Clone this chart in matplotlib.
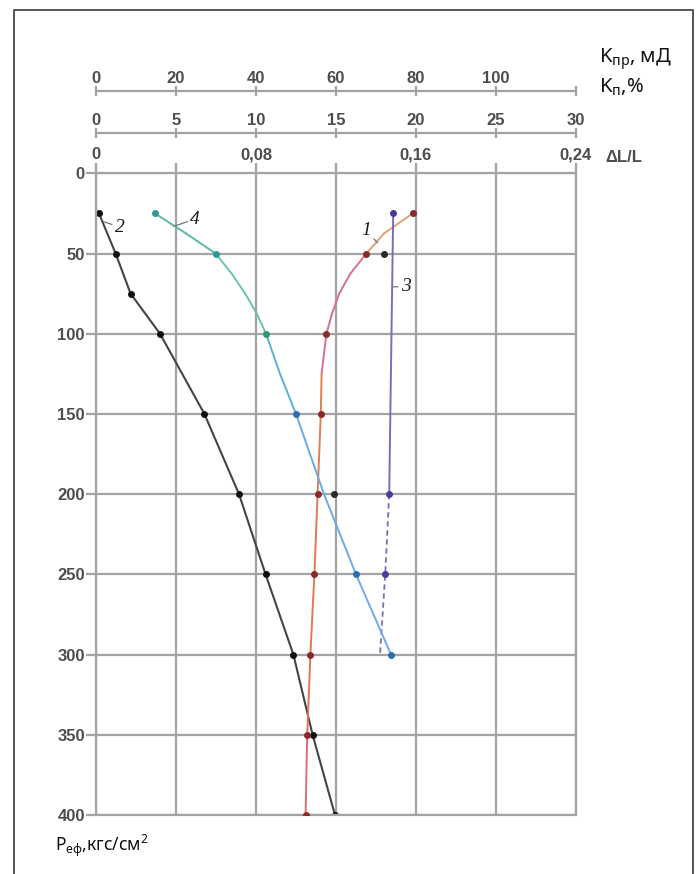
import numpy as np
import matplotlib.pyplot as plt
from matplotlib.lines import Line2D

# effective pressure, kgf/cm2 (vertical axis)
p_ticks = [0, 50, 100, 150, 200, 250, 300, 350, 400]

# curve 2 - relative deformation dL/L
p2 = [25, 50, 75, 100, 150, 200, 250, 300, 350, 400]
dl2 = [0.0015, 0.0098, 0.0173, 0.032, 0.0542, 0.0715, 0.0848, 0.0987, 0.1083, 0.1195]

# curve 1 - porosity Kп, %
p1 = [25, 37.5, 50, 62.5, 75, 87.5, 100, 125, 150, 200, 250, 300, 350, 400]
kp1 = [19.8, 18.0, 16.9, 15.9, 15.2, 14.75, 14.4, 14.1, 14.05, 13.85, 13.65, 13.4, 13.2, 13.1]
kp1_marks = [0, 2, 6, 8, 9, 10, 11, 12, 13]

# extra measured points (Kп)
p_extra = [50, 200]
kp_extra = [18.0, 14.9]

# curve 3 - permeability Kпр, mD
p3 = [25, 200, 250, 300]
kpr3 = [74.3, 73.3, 72.3, 71.0]

# curve 4 - Kпр, mD
p4 = [25, 37.5, 50, 62.5, 75, 87.5, 100, 125, 150, 200, 250, 300]
kpr4 = [14.75, 22.5, 29.9, 33.9, 37.3, 40.2, 42.5, 46.0, 50.0, 57.0, 65.0, 73.75]
kpr4_marks = [0, 2, 6, 8, 10, 11]

dl_ticks = [0, 0.04, 0.08, 0.12, 0.16, 0.20, 0.24]
kp_ticks = [0, 5, 10, 15, 20, 25, 30]
kpr_ticks = [0, 20, 40, 60, 80, 100, 120]

W, H = 698, 874
def fx(x):
    return x / W
def fy(y):
    return 1 - y / H

grid_c = '#a3a3a3'
lab_c = '#4d4d4d'
tick_font = dict(family='Liberation Sans', weight='bold', size=12, color=lab_c)

fig = plt.figure(figsize=(W / 100, H / 100), dpi=100)
fig.patch.set_facecolor('white')

ax = fig.add_axes([fx(96), fy(815), fx(576) - fx(96), fy(173.3) - fy(815)])
ax.set_xlim(0, 0.24)
ax.set_ylim(400, 0)

# secondary scales on top (spine position first, it resets the ticks)
ax_kp = ax.twiny()
ax_kpr = ax.twiny()
for a, off, lim, ticks, labels in (
        (ax_kp, 40, 30, kp_ticks, [str(v) for v in kp_ticks]),
        (ax_kpr, 82, 120, kpr_ticks, [str(v) for v in kpr_ticks[:-1]] + [''])):
    for name, s in a.spines.items():
        if name == 'top':
            s.set_position(('outward', off * 0.72))
            s.set_color(grid_c)
            s.set_linewidth(1.6)
        else:
            s.set_visible(False)
    a.set_xlim(0, lim)
    a.tick_params(axis='x', direction='inout', length=7, width=1.6, color=grid_c, pad=0)
    a.set_xticks(ticks)
    a.set_xticklabels(labels, fontdict=tick_font)

# main scale (dL/L) - set after twiny, which moves it down
ax.xaxis.tick_top()
ax.xaxis.set_label_position('top')
ax.tick_params(axis='x', direction='out', length=7, width=1.6, color=grid_c, pad=1)
ax.tick_params(axis='y', direction='out', length=7, width=1.6, color=grid_c, pad=1)
ax.set_xticks(dl_ticks)
ax.set_xticklabels(['0', '', '0,08', '', '0,16', '', '0,24'], fontdict=tick_font)
ax.set_yticks(p_ticks)
ax.set_yticklabels([str(v) for v in p_ticks], fontdict=tick_font)
ax.grid(True, color=grid_c, lw=1.6)
for s in ax.spines.values():
    s.set_color(grid_c)
    s.set_linewidth(1.6)

# curve 2
ax.plot(dl2, p2, color='#444444', lw=1.5, marker='o', ms=4, mfc='#111111', mec='#111111')

# curve 1 (colour changes along the line as in the scan)
c1 = ['#e3a070', '#e3a070', '#d8708c', '#d8708c', '#d8708c', '#d8708c', '#d8708c',
      '#e08050', '#e08050', '#e07a50', '#e07a50', '#e07060', '#e06a78']
for i in range(len(p1) - 1):
    ax_kp.plot(kp1[i:i + 2], p1[i:i + 2], color=c1[i], lw=1.4, solid_capstyle='round')
ax_kp.plot([kp1[i] for i in kp1_marks], [p1[i] for i in kp1_marks], 'o', ms=4,
           color='#8a2a2a')
ax_kp.plot(kp_extra, p_extra, 'o', ms=4, color='#2a2a2a')

# curve 3
ax_kpr.plot(kpr3[:2], p3[:2], color='#7c6cc0', lw=1.4)
ax_kpr.plot(kpr3[1:], p3[1:], color='#7c6cc0', lw=1.3, ls=(0, (3, 2)))
ax_kpr.plot(kpr3[:3], p3[:3], 'o', ms=4, color='#4a3a9a')

# curve 4
c4 = ['#5ab8a8', '#5ab8a8', '#6cc4a0', '#6cc4a0', '#6cc4a0', '#6cc4a0',
      '#5cb0d8', '#5cb0d8', '#68ace6', '#68ace6', '#70aaea']
for i in range(len(p4) - 1):
    ax_kpr.plot(kpr4[i:i + 2], p4[i:i + 2], color=c4[i], lw=1.4, solid_capstyle='round')
mcol4 = ['#2a9a98', '#2a9a98', '#2a9a70', '#2a70b0', '#2a70b0', '#2a70b0']
for j, i in enumerate(kpr4_marks):
    ax_kpr.plot(kpr4[i], p4[i], 'o', ms=4, color=mcol4[j])

# curve numbers with leaders
lab_font = dict(family='Liberation Serif', style='italic', size=14, color='#1a1a1a')
lead = dict(arrowstyle='-', color='#777777', lw=0.9, shrinkA=0, shrinkB=0)
ax.annotate('2', xy=(0.0035, 30), xytext=(0.0118, 33.5), ha='center', va='center',
            arrowprops=lead, **lab_font)
ax_kpr.annotate('4', xy=(19.5, 33), xytext=(24.8, 28.5), ha='center', va='center',
                arrowprops=lead, **lab_font)
ax_kp.annotate('1', xy=(17.6, 43.4), xytext=(16.9, 35.5), ha='center', va='center',
               arrowprops=lead, **lab_font)
ax_kpr.annotate('3', xy=(74.3, 70.8), xytext=(77.4, 70.6), ha='center', va='center',
                arrowprops=lead, **lab_font)

# axis titles
fig.text(fx(605), fy(157), 'ΔL/L', ha='left', va='center', fontdict=tick_font)
txt_font = dict(family=['Noto Sans', 'DejaVu Sans'], color='#111111')
fig.text(fx(599), fy(63), r'$\mathregular{K_{пр}}$, мД', ha='left', va='baseline',
         size=14.5, **txt_font)
fig.text(fx(599), fy(93), r'$\mathregular{K_{п}}$,%', ha='left', va='baseline',
         size=14.5, **txt_font)
fig.text(fx(55), fy(851), r'$\mathregular{P_{еф}}$,кгс/см$^{\mathregular{2}}$',
         ha='left', va='baseline', size=12.5, **txt_font)

# frame around the picture
frame = dict(color='#555555', lw=1.4, transform=fig.transFigure)
fig.add_artist(Line2D([fx(14), fx(14), fx(693), fx(693)], [0, fy(10), fy(10), 0], **frame))

fig.savefig('out.png', dpi=100, facecolor='white')
